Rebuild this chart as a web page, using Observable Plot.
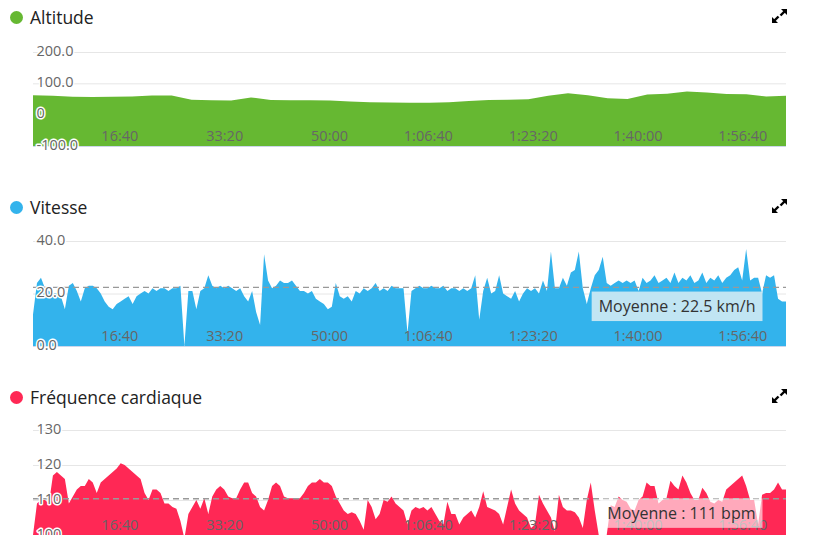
<!DOCTYPE html>
<html>
<head>
<meta charset="utf-8">
<script src="https://cdn.jsdelivr.net/npm/d3@7"></script>
<script src="https://cdn.jsdelivr.net/npm/@observablehq/plot@0.6"></script>
<style>
  body { margin: 0; background: #fff; font-family: "Open Sans", sans-serif; }
  #root { position: relative; width: 821px; height: 535px; overflow: hidden; }
  .title { position: absolute; left: 30px; font-size: 17.5px; line-height: 24px; color: #222; white-space: nowrap; }
  .dot { position: absolute; left: 10px; width: 13px; height: 13px; border-radius: 50%; }
  .icon { position: absolute; left: 771px; }
  .chart { position: absolute; left: 0; }
</style>
</head>
<body>
<div id="root"></div>
<script>
// ---- data (seconds from start; samples every STEP seconds) ----
const DURATION = 7182;
const STEP = 38;
const ALT_STEP = 189;

const altitude = [62,60,57,56,57,58,61,61,48,46,45,55,47,46,46,45,42,40,39,38,38,40,44,47,48,49,60,68,62,52,50,64,67,74,71,66,65,58,60];

const speed = [
  12,24,26,22,21,20,20,19,14,23,
  24,21,17,22,23,23,22,20,17,15,
  14,16,17,18,19,16,19,20,21,20,
  22,21,22,22,21,22,22,23,0,21,
  21,14,21,22,27,23,22,23,22,23,
  22,21,22,19,17,21,13,8,35,25,
  22,23,25,24,24,25,23,21,21,20,
  21,18,17,16,14,15,24,19,18,19,
  17,21,20,22,21,22,24,21,22,21,
  23,22,22,22,5,21,22,23,22,22,
  23,22,22,23,21,22,22,21,22,21,
  22,27,10,21,26,20,21,27,20,19,
  18,21,17,20,22,21,22,20,25,21,
  36,22,22,26,23,28,29,36,22,16,
  22,27,29,34,24,23,24,25,24,25,
  24,25,21,26,24,25,27,24,25,26,
  24,28,24,26,25,27,24,25,28,24,
  26,25,27,24,26,27,29,30,25,37,
  25,26,26,20,27,26,27,18,17,17
];

const heartRate = [
  100,109,110,110,109,117,118,117,116,109,
  111,113,114,114,116,115,112,115,116,117,
  118,119,120.5,120,119,118,117,116,112,110,
  113,113,112,109,109,108,107.5,104,99,106,
  108,110,107.5,110.5,106,111,113,114,113,111,
  110.5,110.5,113,115,115,112,111,108,107,110,
  114,115,114,111,110.5,110.5,110.5,110.5,112,114,
  115,115,116,115,115,114,111,109,107,106,
  106.5,106,104,101.5,110,108,104.5,106,110,109.5,
  111,109,108,107,103,107,108,107.5,108,107,
  108,106,104,103,109.5,106,106,103,105,106,
  107,105,108,112.5,108,107.5,107,106,103,108,
  113,109,107,106,105,102,103,111.5,109,107,
  105,101,111.5,108,107,107,106.5,105,102,110,
  115,107,100,100,100,108.5,108,111,110,109.5,
  107.5,107,110,111,115,114,114,109,110,110.5,
  115.5,114,113,117,115,112,110,110,113.5,112,
  109.5,109,110,109.5,113,114,115,116,117,114,
  110,110,103,111.5,112,112,113,115,113,113
];

const xTicks = [1000, 2000, 3000, 4000, 5000, 6000, 7000];
const xTickLabels = ["16:40", "33:20", "50:00", "1:06:40", "1:23:20", "1:40:00", "1:56:40"];

const altTicks = [-100, 0, 100, 200];
const altTickLabels = ["-100.0", "0", "100.0", "200.0"];
const speedTicks = [0, 20, 40];
const speedTickLabels = ["0.0", "20.0", "40.0"];
const hrTicks = [100, 110, 120, 130];
const hrTickLabels = ["100", "110", "120", "130"];

const speedAverage = 22.5;
const hrAverage = 110.5;
const speedAverageLabel = "Moyenne : 22.5 km/h";
const hrAverageLabel = "Moyenne : 111 bpm";

const titles = ["Altitude", "Vitesse", "Fréquence cardiaque"];
const colors = ["#66b832", "#33b3ec", "#ff2855"];

// ---- layout ----
const root = document.getElementById("root");

function addHeader(k) {
  const top = 190 * k;
  const dot = document.createElement("div");
  dot.className = "dot";
  dot.style.top = (top + 10.5) + "px";
  dot.style.background = colors[k];
  root.appendChild(dot);
  const t = document.createElement("div");
  t.className = "title";
  t.style.top = (top + 5) + "px";
  t.textContent = titles[k];
  root.appendChild(t);
  const ns = "http://www.w3.org/2000/svg";
  const icon = document.createElementNS(ns, "svg");
  icon.setAttribute("class", "icon");
  icon.setAttribute("width", 17);
  icon.setAttribute("height", 16);
  icon.style.top = (top + 8) + "px";
  icon.innerHTML =
    '<path d="M16,1 L10,1 L16,7 Z" fill="#000"/>' +
    '<path d="M13.5,3.5 L9.5,7.5" stroke="#000" stroke-width="2.4"/>' +
    '<path d="M1,15 L7,15 L1,9 Z" fill="#000"/>' +
    '<path d="M3.5,12.5 L7.5,8.5" stroke="#000" stroke-width="2.4"/>';
  root.appendChild(icon);
}

function panel(k, cfg) {
  addHeader(k);
  const rows = cfg.values.map((v, i) => ({t: Math.min(i * cfg.step, DURATION), v}));
  const y0 = cfg.yDomain[0];
  const marks = [
    Plot.ruleY(cfg.yTicks, {stroke: "#e6e6e6"}),
    Plot.areaY(rows, {x: "t", y1: y0, y2: "v", fill: colors[k], clip: true}),
    Plot.ruleY([y0], {stroke: "#ccd6eb"}),
  ];
  if (cfg.avg != null) {
    marks.push(Plot.ruleY([cfg.avg], {stroke: "#999", strokeWidth: 1.3, strokeDasharray: "6,4"}));
  }
  marks.push(
    Plot.text(cfg.yTicks, {
      y: d => d, text: (d, i) => cfg.yLabels[i],
      frameAnchor: "left", textAnchor: "start", lineAnchor: "middle",
      dx: 3, dy: -1.5, fill: "#666", stroke: "white", strokeWidth: 3
    }),
    Plot.text(xTicks, {
      x: d => d, text: (d, i) => xTickLabels[i],
      frameAnchor: "bottom", textAnchor: "end", lineAnchor: "middle",
      dy: -10, fill: "#666"
    })
  );
  if (cfg.avgLabel) {
    marks.push(Plot.text([cfg.avg], {
      y: d => d, text: () => cfg.avgLabel,
      frameAnchor: "right", textAnchor: "end", lineAnchor: "middle",
      dx: -31, dy: cfg.avgDy, fill: "#333", fontSize: 16
    }));
  }
  const svg = Plot.plot({
    width: 821,
    height: cfg.height,
    marginLeft: 33,
    marginRight: 35,
    marginTop: cfg.marginTop,
    marginBottom: cfg.marginBottom,
    x: {domain: [0, DURATION], axis: null},
    y: {domain: cfg.yDomain, axis: null},
    style: {fontFamily: "Open Sans", fontSize: "14.5px", background: "transparent", overflow: "visible"},
    marks
  });
  svg.classList.add("chart");
  svg.style.top = (190 * k + cfg.svgTop) + "px";
  root.appendChild(svg);
  // semi-transparent box behind the average label
  if (cfg.avgLabel) {
    d3.select(svg).selectAll("text")
      .filter(function() { return this.textContent === cfg.avgLabel; })
      .each(function() {
        const b = this.getBBox();
        d3.select(this.parentNode).insert("rect", () => this)
          .attr("x", b.x - 7).attr("y", b.y - 3.5)
          .attr("width", b.width + 14).attr("height", b.height + 7.5)
          .attr("fill", cfg.boxFill).attr("fill-opacity", cfg.boxOpacity)
          .attr("transform", this.getAttribute("transform"));
      });
  }
}

panel(0, {values: altitude, step: ALT_STEP, yDomain: [-100, 200], yTicks: altTicks, yLabels: altTickLabels,
  height: 110, marginTop: 12, marginBottom: 4, svgTop: 40});
panel(1, {values: speed, step: STEP, yDomain: [0, 40], yTicks: speedTicks, yLabels: speedTickLabels,
  height: 120, marginTop: 11, marginBottom: 4, svgTop: 40,
  avg: speedAverage, avgLabel: speedAverageLabel, avgDy: 19.5, boxFill: "#f2f6f6", boxOpacity: 0.75});
panel(2, {values: heartRate, step: STEP, yDomain: [100, 130], yTicks: hrTicks, yLabels: hrTickLabels,
  height: 120, marginTop: 10, marginBottom: 5, svgTop: 40,
  avg: hrAverage, avgLabel: hrAverageLabel, avgDy: 15, boxFill: "#ffffff", boxOpacity: 0.6});
</script>
</body>
</html>
